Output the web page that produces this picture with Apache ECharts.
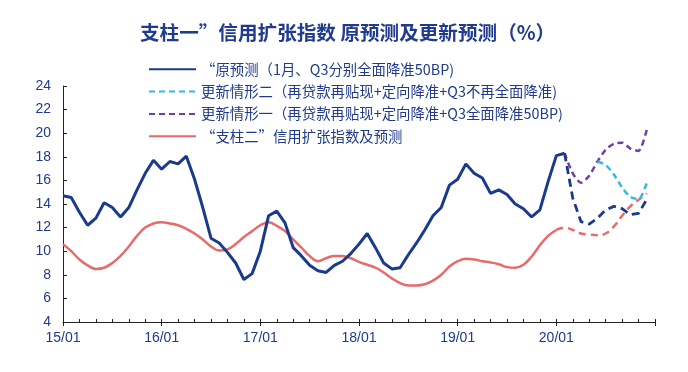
<!DOCTYPE html>
<html><head><meta charset="utf-8">
<script src="https://cdn.jsdelivr.net/npm/echarts@6/dist/echarts.min.js"></script>
<style>html,body{margin:0;padding:0;background:#fff}#c{width:688px;height:372px}</style>
</head><body><div id="c"></div>
<script>
// Month categories 15/01 .. 21/01
const yearLabels = ['15','16','17','18','19','20'];
const monthLabels = ['01','02','03','04','05','06','07','08','09','10','11','12'];
const categories = [];
yearLabels.forEach(y => monthLabels.forEach(m => categories.push(y + '/' + m)));
categories.push('21/01');

const seriesNames = [
  '“原预测（1月、Q3分别全面降准50BP)',
  '更新情形二（再贷款再贴现+定向降准+Q3不再全面降准)',
  '更新情形一（再贷款再贴现+定向降准+Q3全面降准50BP)',
  '“支柱二”信用扩张指数及预测'
];

// Original forecast (solid blue), from 15/01
const blueActual = [14.7,14.55,13.3,12.2,12.8,14.1,13.7,12.9,13.7,15.2,16.6,17.7,16.95,17.6,17.4,18.05,16.1,13.7,11.1,10.7,9.9,9.0,7.6,8.1,10.0,13.0,13.4,12.4,10.3,9.6,8.8,8.35,8.2,8.8,9.15,9.8,10.6,11.5,10.3,9.0,8.5,8.6,9.7,10.7,11.8,13.0,13.7,15.6,16.1,17.4,16.6,16.2,14.9,15.2,14.8,14.0,13.6,12.9,13.5,15.9,18.1,18.3];
// Original forecast (dashed blue), from 20/02
const blueForecast = [18.3,14.5,12.5,12.3,12.8,13.5,13.8,13.6,13.1,13.2,14.4];
// Scenario one (purple dashed), from 20/02
const scenarioOne = [18.3,16.6,15.8,16.4,17.6,18.6,19.1,19.2,18.7,18.5,20.3];
// Scenario two (cyan dashed), from 20/06
const scenarioTwo = [17.6,17.3,16.5,15.4,14.6,14.4,15.8];
// Pillar two (red solid), from 15/01
const redActual = [10.6,10.0,9.3,8.8,8.5,8.6,9.0,9.6,10.4,11.3,12.0,12.35,12.45,12.35,12.2,11.9,11.5,11.0,10.4,10.05,10.15,10.6,11.2,11.7,12.2,12.45,12.15,11.7,11.0,10.3,9.6,9.15,9.4,9.6,9.6,9.4,9.1,8.85,8.6,8.2,7.7,7.3,7.1,7.1,7.2,7.5,8.0,8.7,9.15,9.35,9.3,9.15,9.05,8.9,8.65,8.6,8.85,9.55,10.5,11.3,11.8];
// Pillar two forecast (red dashed), from 20/01
const redForecast = [11.8,12.0,11.8,11.5,11.4,11.35,11.5,12.1,13.0,13.8,14.35,14.9];

const yTicks = {min: 4, max: 24, interval: 2};

function placed(values, startIdx) {
  const out = new Array(categories.length).fill(null);
  values.forEach((v, i) => { out[startIdx + i] = v; });
  return out;
}

const NAVY = '#1F3A8F';
const BLUE = '#1A3A8E';
const CYAN = '#35B8E6';
const PURPLE = '#7040A0';
const RED = '#E86A6A';

const chart = echarts.init(document.getElementById('c'), null, {renderer: 'canvas'});
chart.setOption({
  animation: false,
  backgroundColor: '#fff',
  title: {
    text: '支柱一”信用扩张指数 原预测及更新预测（%）',
    left: 135, top: 18,
    textStyle: {fontFamily: 'Noto Sans CJK SC', fontSize: 19.6, fontWeight: 'bold', color: NAVY}
  },
  legend: {
    orient: 'vertical', left: 143, top: 57,
    itemWidth: 47, itemHeight: 14, itemGap: 8,
    data: seriesNames,
    itemStyle: {opacity: 0},
    textStyle: {fontFamily: 'Noto Sans CJK SC', fontSize: 14.4, color: NAVY}
  },
  grid: {left: 63, right: 33, top: 86, bottom: 50, containLabel: false},
  xAxis: [{
    type: 'category', data: categories, boundaryGap: false, position: 'bottom',
    axisLine: {lineStyle: {color: '#222', width: 1}},
    axisTick: {show: true, inside: true, length: 3, interval: (i) => i % 2 === 0, lineStyle: {color: '#222'}},
    axisLabel: {interval: (i) => i % 12 === 0 && i < 72, margin: 9, color: NAVY,
      fontFamily: 'Liberation Sans', fontSize: 14},
    splitLine: {show: false}
  }, {
    type: 'category', data: categories, boundaryGap: false, position: 'bottom',
    axisLine: {show: false},
    axisTick: {show: true, inside: false, length: 4, interval: (i) => i % 12 === 0, lineStyle: {color: '#222'}},
    axisLabel: {show: false},
    splitLine: {show: false}
  }],
  yAxis: {
    type: 'value', min: yTicks.min, max: yTicks.max, interval: yTicks.interval,
    axisLine: {show: true, lineStyle: {color: '#222', width: 1}},
    axisTick: {show: true, inside: true, length: 4, lineStyle: {color: '#222'}},
    axisLabel: {margin: 12, color: NAVY, fontFamily: 'Liberation Sans', fontSize: 14},
    splitLine: {show: false}
  },
  series: [
    {name: seriesNames[3], type: 'line', data: placed(redActual, 0), symbol: 'none', smooth: 0.4,
      lineStyle: {color: RED, width: 2.5}, itemStyle: {color: RED}, z: 2},
    {name: 'redForecast', type: 'line', data: placed(redForecast, 60), symbol: 'none', smooth: 0.4,
      lineStyle: {color: RED, width: 2.5, type: [7, 5]}, itemStyle: {color: RED}, z: 2},
    {name: seriesNames[2], type: 'line', data: placed(scenarioOne, 61), symbol: 'none', smooth: 0.25,
      lineStyle: {color: PURPLE, width: 2.5, type: [6, 4]}, itemStyle: {color: PURPLE}, z: 3},
    {name: seriesNames[1], type: 'line', data: placed(scenarioTwo, 65), symbol: 'none', smooth: 0.25,
      lineStyle: {color: CYAN, width: 2.5, type: [6, 4]}, itemStyle: {color: CYAN}, z: 4},
    {name: 'blueForecast', type: 'line', data: placed(blueForecast, 61), symbol: 'none',
      lineStyle: {color: BLUE, width: 2.8, type: [8, 5]}, itemStyle: {color: BLUE}, z: 5},
    {name: seriesNames[0], type: 'line', data: placed(blueActual, 0), symbol: 'none',
      lineStyle: {color: BLUE, width: 3}, itemStyle: {color: BLUE}, z: 6}
  ]
});
</script></body></html>
